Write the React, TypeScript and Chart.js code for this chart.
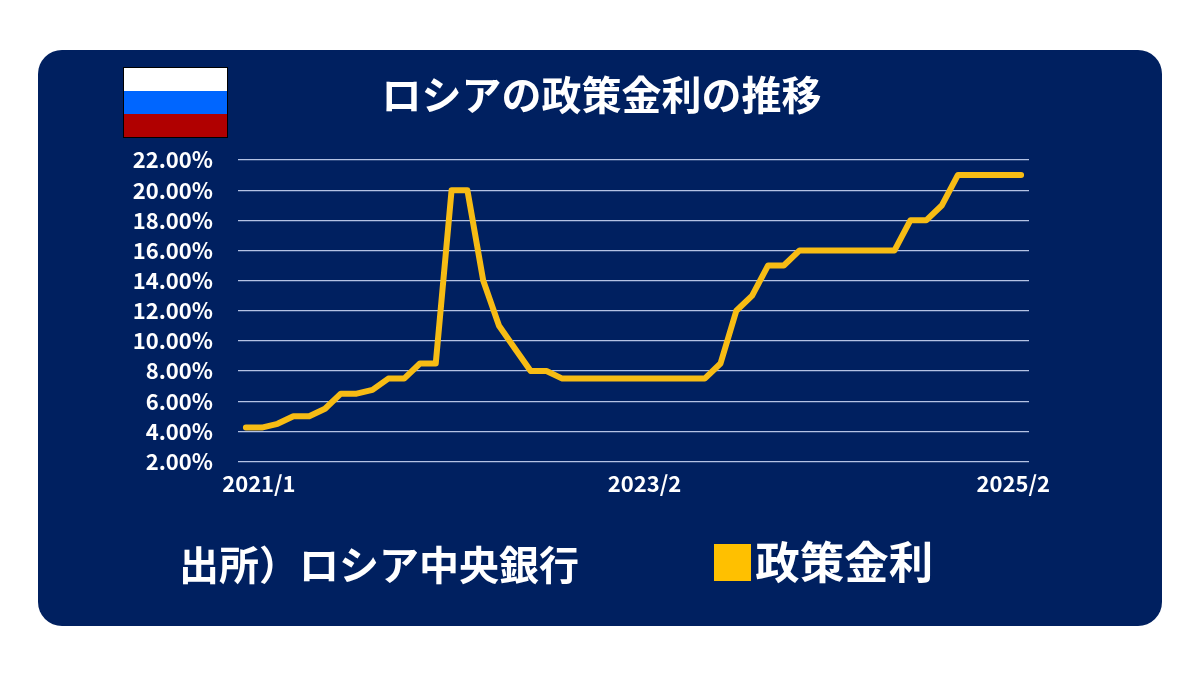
import React, { useEffect, useRef } from "react";
import { Chart, registerables } from "chart.js";

Chart.register(...registerables);

const months = [
  "2021/1","2021/2","2021/3","2021/4","2021/5","2021/6","2021/7","2021/8","2021/9","2021/10","2021/11","2021/12",
  "2022/1","2022/2","2022/3","2022/4","2022/5","2022/6","2022/7","2022/8","2022/9","2022/10","2022/11","2022/12",
  "2023/1","2023/2","2023/3","2023/4","2023/5","2023/6","2023/7","2023/8","2023/9","2023/10","2023/11","2023/12",
  "2024/1","2024/2","2024/3","2024/4","2024/5","2024/6","2024/7","2024/8","2024/9","2024/10","2024/11","2024/12",
  "2025/1","2025/2",
];
const policyRate = [
  4.25,4.25,4.5,5,5,5.5,6.5,6.5,6.75,7.5,7.5,8.5,
  8.5,20,20,14,11,9.5,8,8,7.5,7.5,7.5,7.5,
  7.5,7.5,7.5,7.5,7.5,7.5,8.5,12,13,15,15,16,
  16,16,16,16,16,16,18,18,19,21,21,21,
  21,21,
];
const tickLabels = ["2021/1", "2023/2", "2025/2"];
const tickSlots = [0.82, 25.2, 48.5];
const titleText = "ロシアの政策金利の推移";
const seriesName = "政策金利";
const sourceText = "出所）ロシア中央銀行";

const FONT = '"Noto Sans CJK JP", "Noto Sans", sans-serif';
const NAVY = "#002060";

const placeBoxes = {
  id: "placeBoxes",
  beforeDraw(chart: any) {
    const l = chart.legend;
    if (l) {
      l.left = 710;
      l.right = 731 + l.lineWidths[0];
      l.top = 540;
      l.bottom = 540 + l.height + 8;
    }
    const t = chart.titleBlock;
    if (t) {
      t.left = 0;
      t.right = 1203;
    }
  },
};

function makeSwatch() {
  const c = document.createElement("canvas");
  c.width = 37;
  c.height = 37;
  const g = c.getContext("2d")!;
  g.fillStyle = "#FFC000";
  g.fillRect(0, 0, 37, 37);
  return c;
}

export default function App() {
  const ref = useRef<HTMLCanvasElement>(null);
  useEffect(() => {
    const chart = new Chart(ref.current!, {
      type: "line",
      data: {
        labels: months,
        datasets: [
          {
            label: seriesName,
            data: policyRate,
            borderColor: "#F7BC14",
            backgroundColor: "#FFC000",
            borderWidth: 6,
            pointRadius: 0,
            tension: 0,
            borderJoinStyle: "round",
            borderCapStyle: "round",
            xAxisID: "x",
            yAxisID: "y",
          },
        ],
      },
      options: {
        responsive: false,
        animation: false,
        devicePixelRatio: 1,
        layout: { padding: { left: 0, right: 171, top: 0, bottom: 119 } },
        plugins: {
          tooltip: { enabled: false },
          title: {
            display: true,
            text: titleText,
            color: "#FFFFFF",
            font: { family: FONT, size: 40, weight: "bold", lineHeight: 1.2 },
            padding: { top: 71, bottom: 41 },
          },
          legend: {
            display: true,
            position: "bottom",
            align: "end",
            labels: {
              color: "#FFFFFF",
              font: { family: FONT, size: 44.5, weight: "bold" },
              usePointStyle: true,
              pointStyle: makeSwatch(),
              boxWidth: 2,
              boxHeight: 37,
              padding: 0,
            },
          },
        },
        scales: {
          x: { type: "category", display: false, offset: true },
          xl: {
            type: "linear",
            position: "bottom",
            min: -0.5,
            max: 49.5,
            grid: { display: false, drawTicks: false },
            border: { display: false },
            afterBuildTicks: (s: any) => {
              s.ticks = tickSlots.map((value) => ({ value }));
            },
            afterFit: (s: any) => {
              s.height = 40;
            },
            ticks: {
              autoSkip: false,
              maxRotation: 0,
              color: "#FFFFFF",
              padding: 9,
              font: { family: FONT, size: 22, weight: "bold" },
              callback: (_v: any, i: number) => tickLabels[i],
            },
          },
          y: {
            type: "linear",
            min: 2,
            max: 22,
            afterFit: (s: any) => {
              s.width = 238;
            },
            grid: { color: "#B4C2E4", lineWidth: 1.2, drawTicks: false },
            border: { display: false },
            ticks: {
              stepSize: 2,
              color: "#FFFFFF",
              padding: 25,
              font: { family: FONT, size: 22, weight: "bold" },
              callback: (v: any) => Number(v).toFixed(2) + "%",
            },
          },
        },
      },
      plugins: [placeBoxes],
    } as any);
    return () => chart.destroy();
  }, []);

  return (
    <div style={{ position: "fixed", left: 0, top: 0, width: 1200, height: 675, background: "#FFFFFF", overflow: "hidden" }}>
      <div style={{ position: "absolute", left: 38, top: 50, width: 1124, height: 576, borderRadius: 24, background: NAVY }} />
      <canvas ref={ref} width={1200} height={675} style={{ position: "absolute", left: 0, top: 0, width: 1200, height: 675 }} />
      <div style={{ position: "absolute", left: 123, top: 67, width: 103, height: 69, border: "1px solid #000", display: "flex", flexDirection: "column" }}>
        <div style={{ flex: 1, background: "#FFFFFF" }} />
        <div style={{ flex: 1, background: "#0066FF" }} />
        <div style={{ flex: 1, background: "#B00000" }} />
      </div>
      <div style={{ position: "absolute", left: 179, top: 539, lineHeight: "48px", fontFamily: FONT, fontWeight: 700, fontSize: 40, color: "#FFFFFF", whiteSpace: "nowrap" }}>
        {sourceText}
      </div>
    </div>
  );
}
